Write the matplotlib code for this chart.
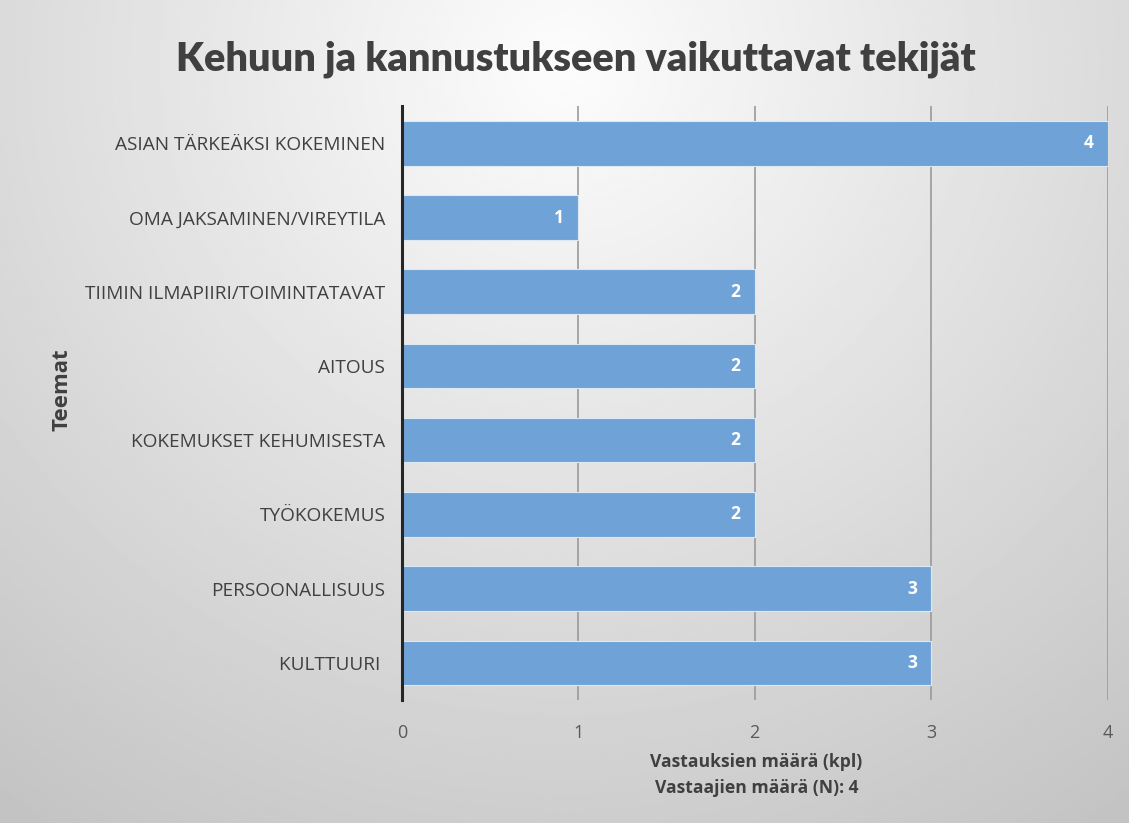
import matplotlib
matplotlib.use("Agg")
import matplotlib.pyplot as plt
import numpy as np

# Data, bottom to top
categories = ["KULTTUURI ", "PERSOONALLISUUS", "TYÖKOKEMUS", "KOKEMUKSET KEHUMISESTA",
              "AITOUS", "TIIMIN ILMAPIIRI/TOIMINTATAVAT", "OMA JAKSAMINEN/VIREYTILA",
              "ASIAN TÄRKEÄKSI KOKEMINEN"]
counts = [3, 3, 2, 2, 2, 2, 1, 4]
xticks = [0, 1, 2, 3, 4]

text_col = "#404040"
bar_col = "#6fa3d8"

fig = plt.figure(figsize=(11.29, 8.23), dpi=100)

# radial grey gradient background
bg = fig.add_axes([0, 0, 1, 1])
yy, xx = np.mgrid[0:1:300j, 0:1:400j]
r = np.sqrt(((xx - 0.5) / 0.75) ** 2 + ((yy - 0.08) / 1.0) ** 2)
shade = 0.99 - 0.2 * np.clip(r, 0, 1.2)
bg.imshow(shade, cmap="gray", vmin=0, vmax=1, aspect="auto",
          extent=[0, 1, 0, 1], origin="upper")
bg.set_axis_off()

ax = fig.add_axes([0.356, 0.1495, 0.625, 0.7215])
ax.patch.set_alpha(0)
y = np.arange(len(categories))
bars = ax.barh(y, counts, height=0.6, color=bar_col, edgecolor="#dce9f5",
               linewidth=0.8, zorder=3)
for b, v in zip(bars, counts):
    ax.text(v - 0.08, b.get_y() + b.get_height() / 2, str(v), ha="right",
            va="center", color="white", fontsize=12.5, fontweight="bold",
            family="Open Sans", zorder=4)

ax.set_xlim(0, 4)
ax.set_ylim(-0.5, len(categories) - 0.5)
ax.set_yticks(y)
ax.set_yticklabels(categories, family="Open Sans", fontsize=13.7, color=text_col)
ax.set_xticks(xticks)
ax.set_xticklabels([str(t) for t in xticks], family="Open Sans", fontsize=13,
                   color="#595959")
ax.tick_params(axis="y", length=0, pad=12)
ax.tick_params(axis="x", length=0, pad=17)
ax.grid(axis="x", color="#9a9a9a", linewidth=1.2, zorder=1)
for s in ["top", "right", "bottom"]:
    ax.spines[s].set_visible(False)
ax.spines["left"].set_color("#262626")
ax.spines["left"].set_linewidth(2.2)
ax.spines["left"].set_zorder(5)

fig.text(0.510, 0.928, "Kehuun ja kannustukseen vaikuttavat tekijät", ha="center",
         va="center", fontsize=28.5, fontweight="heavy", family="Lato",
         color=text_col)
fig.text(0.055, 0.526, "Teemat", rotation=90, ha="center", va="center",
         fontsize=16, fontweight="bold", family="Open Sans", color=text_col)
fig.text(0.670, 0.0741, "Vastauksien määrä (kpl)", ha="center", va="center",
         fontsize=12.6, fontweight="bold", family="Open Sans", color=text_col)
fig.text(0.670, 0.0425, "Vastaajien määrä (N): 4", ha="center", va="center",
         fontsize=12.6, fontweight="bold", family="Open Sans", color=text_col)

fig.savefig("out.png", dpi=100)
